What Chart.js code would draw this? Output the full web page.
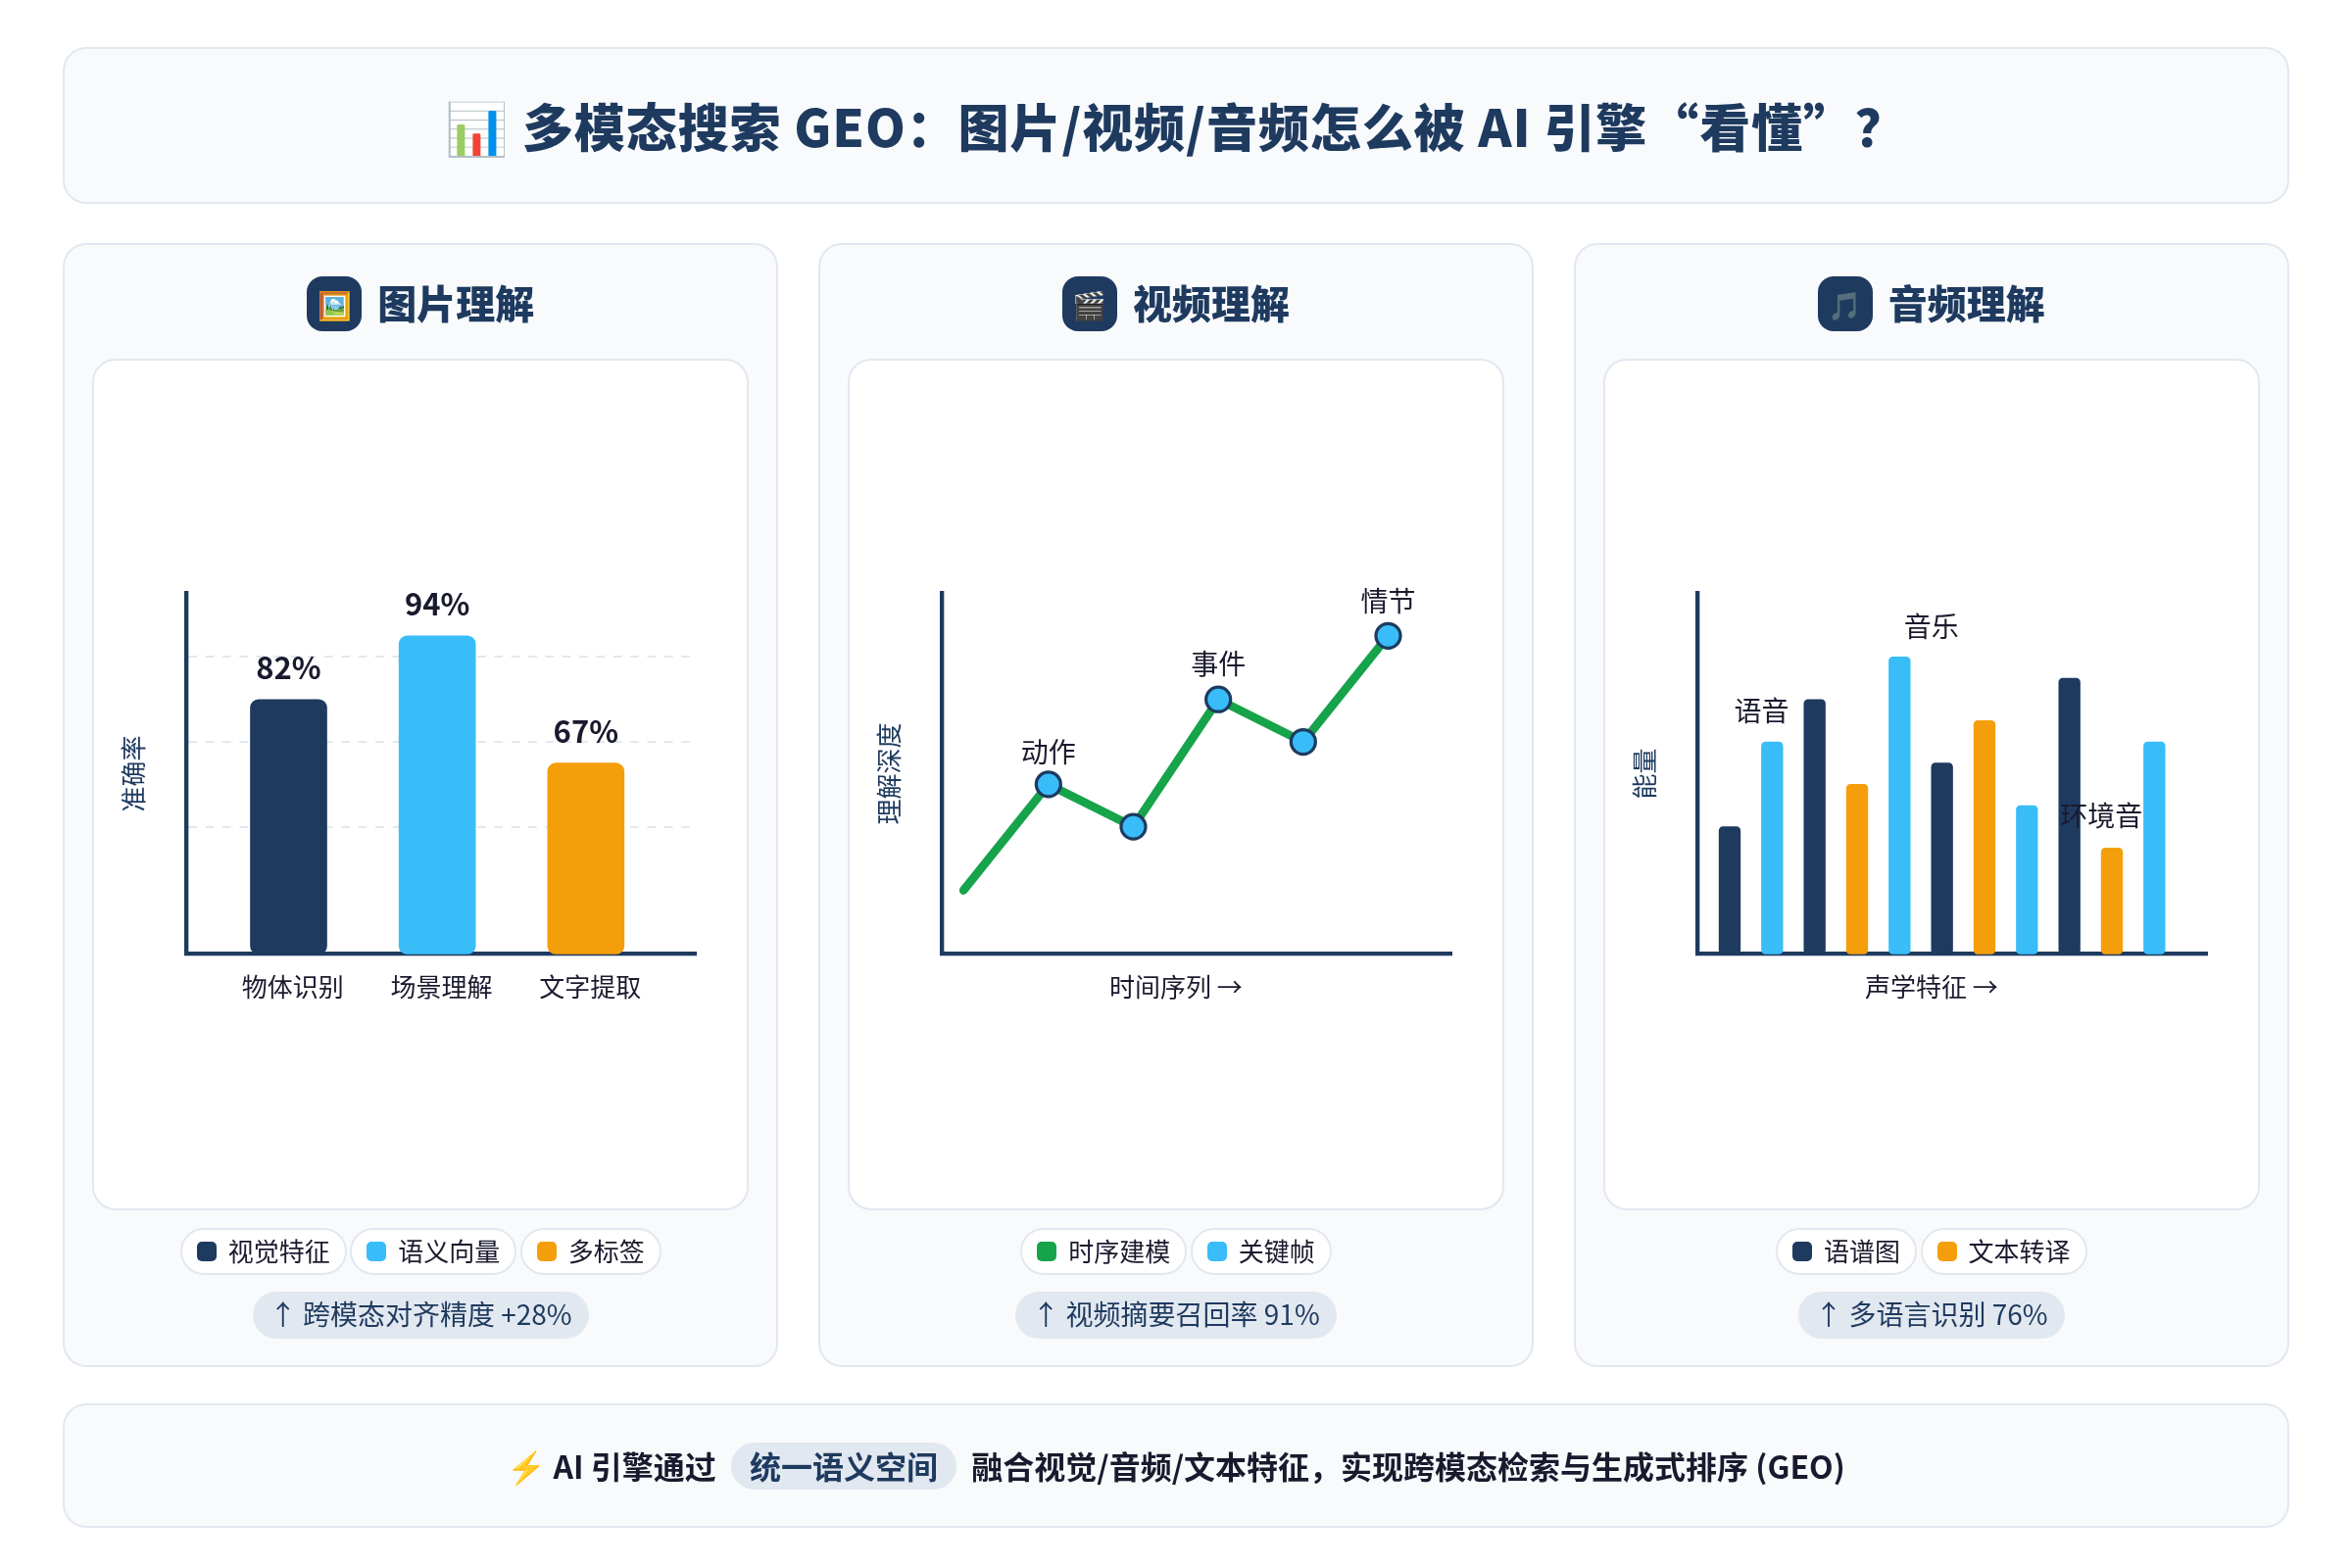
<!DOCTYPE html>
<html lang="zh-CN">
<head>
<meta charset="utf-8">
<title>多模态搜索 GEO</title>
<script src="https://cdn.jsdelivr.net/npm/chart.js@4"></script>
<style>
    * { box-sizing: border-box; }
    html, body { margin: 0; background: #ffffff; }
    body {
        width: 2400px;
        height: 1600px;
        padding: 48px 64px 0;
        font-family: "Noto Sans CJK SC", "Noto Sans", sans-serif;
        color: #1a1a2e;
    }
    .panel {
        background: #f8fafc;
        border: 2px solid #e2e8f0;
        border-radius: 24px;
    }
    .header {
        height: 160px;
        padding-bottom: 2px;
        display: flex;
        align-items: center;
        justify-content: center;
        font-size: 52px;
        font-weight: 800;
        letter-spacing: 0.9px;
        color: #1e3a5f;
    }
    .cards {
        display: flex;
        gap: 40.5px;
        margin-top: 40px;
        height: 1147px;
    }
    .card {
        flex: 1;
        min-width: 0;
        padding: 32px 28px 0;
        display: flex;
        flex-direction: column;
        align-items: center;
    }
    .card-title {
        display: flex;
        align-items: center;
        gap: 16px;
        height: 56px;
        font-size: 40px;
        font-weight: 800;
        color: #1e3a5f;
    }
    .card-title .text {
        position: relative;
        top: -2px;
    }
    .card-icon {
        width: 56px;
        height: 56px;
        border-radius: 16px;
        background: #1e3a5f;
        display: flex;
        align-items: center;
        justify-content: center;
        font-size: 28px;
    }
    .chart-box {
        width: 100%;
        height: 869px;
        margin-top: 28px;
        background: #ffffff;
        border: 2px solid #e2e8f0;
        border-radius: 24px;
        overflow: hidden;
    }
    canvas { display: block; }
    .legend {
        display: flex;
        justify-content: center;
        gap: 3.5px;
        margin-top: 18px;
    }
    .chip {
        height: 48px;
        padding: 0 15px;
        display: flex;
        align-items: center;
        gap: 12px;
        background: #ffffff;
        border: 2px solid #e2e8f0;
        border-radius: 24px;
        font-size: 26px;
    }
    .chip .text {
        position: relative;
        top: -2px;
    }
    .swatch {
        width: 20px;
        height: 20px;
        border-radius: 5px;
    }
    .metric {
        height: 48px;
        margin-top: 17px;
        padding: 0 17px 4px;
        display: flex;
        align-items: center;
        background: #e2e8f0;
        border-radius: 24px;
        font-size: 28px;
        color: #1e3a5f;
    }
    .footer {
        height: 127px;
        margin-top: 37px;
        padding-bottom: 2px;
        display: flex;
        align-items: center;
        justify-content: center;
        white-space: pre;
        font-size: 32px;
        font-weight: 700;
    }
    .footer .key {
        position: relative;
        top: 1px;
        height: 48px;
        margin: 0 8px;
        padding: 0 19px 2px;
        display: flex;
        align-items: center;
        background: #e2e8f0;
        border-radius: 24px;
        color: #1e3a5f;
    }
</style>
</head>
<body>
    <div class="panel header">📊 多模态搜索 GEO：图片/视频/音频怎么被 AI 引擎“看懂”？</div>

    <div class="cards">
        <div class="panel card">
            <div class="card-title"><span class="card-icon">🖼️</span><span class="text">图片理解</span></div>
            <div class="chart-box"><canvas id="imageChart" width="664" height="864"></canvas></div>
            <div class="legend" id="imageLegend"></div>
            <div class="metric">↑ 跨模态对齐精度 +28%</div>
        </div>
        <div class="panel card">
            <div class="card-title"><span class="card-icon">🎬</span><span class="text">视频理解</span></div>
            <div class="chart-box"><canvas id="videoChart" width="664" height="864"></canvas></div>
            <div class="legend" id="videoLegend"></div>
            <div class="metric">↑ 视频摘要召回率 91%</div>
        </div>
        <div class="panel card">
            <div class="card-title"><span class="card-icon">🎵</span><span class="text">音频理解</span></div>
            <div class="chart-box"><canvas id="audioChart" width="664" height="864"></canvas></div>
            <div class="legend" id="audioLegend"></div>
            <div class="metric">↑ 多语言识别 76%</div>
        </div>
    </div>

    <div class="panel footer">⚡ AI 引擎通过 <span class="key">统一语义空间</span> 融合视觉/音频/文本特征，实现跨模态检索与生成式排序 (GEO)</div>

<script>
// COLOURS

const NAVY = "#1e3a5f";
const SKY = "#38bdf8";
const AMBER = "#f59e0b";
const GREEN = "#16a34a";
const INK = "#1a1a2e";
const GRID = "#e2e8f0";
const FONT = '"Noto Sans CJK SC", "Noto Sans", sans-serif';

// DATA (axes run 0-240 across and 0-170 up)

const imageBarX = [48, 118, 188];
const imageBarHeights = [120, 150, 90];
const imageValueLabels = ["82%", "94%", "67%"];
const imageLabelY = [135, 165, 105];
const imageTickX = [50, 120, 190];
const imageTickLabels = ["物体识别", "场景理解", "文字提取"];
const imageGridY = [60, 100, 140];
const imageBarColors = [NAVY, SKY, AMBER];

const videoX = [10, 50, 90, 130, 170, 210];
const videoDepth = [30, 80, 60, 120, 100, 150];
const videoLabelX = [50, 130, 210];
const videoLabelY = [95, 137, 166.5];
const videoLabels = ["动作", "事件", "情节"];

const audioX = [15, 35, 55, 75, 95, 115, 135, 155, 175, 195, 215];
const audioEnergy = [60, 100, 120, 80, 140, 90, 110, 70, 130, 50, 100];
const audioBarColors = [NAVY, SKY, NAVY, AMBER, SKY, NAVY, AMBER, SKY, NAVY, AMBER, SKY];
const audioLabelX = [30, 110, 190];
const audioLabelY = [114.5, 154.5, 65];
const audioLabels = ["语音", "音乐", "环境音"];

const axisTickX = [110];

const imageLegendNames = ["视觉特征", "语义向量", "多标签"];
const imageLegendColors = [NAVY, SKY, AMBER];
const videoLegendNames = ["时序建模", "关键帧"];
const videoLegendColors = [GREEN, SKY];
const audioLegendNames = ["语谱图", "文本转译"];
const audioLegendColors = [NAVY, AMBER];


// FUNCTIONS

// text placed on the chart through its own scales
const textMarksPlugin = {
    id: "textMarks",
    afterDatasetsDraw(chart, args, opts) {
        const ctx = chart.ctx;
        ctx.save();
        ctx.font = opts.font;
        ctx.fillStyle = INK;
        ctx.textAlign = "center";
        ctx.textBaseline = "middle";
        opts.texts.forEach((text, i) => {
            ctx.fillText(text, chart.scales.x.getPixelForValue(opts.x[i]), chart.scales.y.getPixelForValue(opts.y[i]));
        });
        ctx.restore();
    }
};

function buildOptions(settings) {
    return {
        responsive: false,
        animation: false,
        events: [],
        clip: false,
        layout: {
            padding: { top: 237.5, right: 49.5, bottom: 158.5, left: 0 }
        },
        scales: {
            x: {
                type: "linear",
                min: 0,
                max: 240,
                offset: false,
                afterFit: scale => { scale.height = 100; },
                afterBuildTicks: scale => { scale.ticks = settings.tickX.map(value => ({ value })); },
                grid: { display: false, offset: false },
                border: { color: NAVY, width: 4.33 },
                ticks: {
                    autoSkip: false,
                    maxRotation: 0,
                    padding: 10.5,
                    color: INK,
                    font: { family: FONT, size: 26 },
                    callback: (value, index) => settings.tickLabels[index]
                }
            },
            y: {
                type: "linear",
                min: 0,
                max: 170,
                afterFit: scale => { scale.width = 94.5; },
                afterBuildTicks: scale => { scale.ticks = settings.gridY.map(value => ({ value })); },
                grid: {
                    display: settings.gridY.length > 0,
                    color: GRID,
                    lineWidth: 2,
                    drawTicks: false
                },
                // v4 takes the grid dash from border.dash
                border: { color: NAVY, width: 4.33, dash: [8.67, 8.67] },
                ticks: { display: false },
                title: {
                    display: true,
                    text: settings.yTitle,
                    color: NAVY,
                    font: { family: FONT, size: 26 },
                    padding: { top: 25, bottom: 0 }
                }
            }
        },
        plugins: {
            legend: { display: false },
            tooltip: { enabled: false },
            textMarks: settings.marks
        }
    };
}

function fillLegend(id, names, colors) {
    const legend = document.getElementById(id);
    names.forEach((name, i) => {
        const chip = document.createElement("div");
        chip.className = "chip";
        const swatch = document.createElement("span");
        swatch.className = "swatch";
        swatch.style.background = colors[i];
        const text = document.createElement("span");
        text.className = "text";
        text.textContent = name;
        chip.append(swatch, text);
        legend.append(chip);
    });
}

function toPoints(xs, ys) {
    return xs.map((x, i) => ({ x, y: ys[i] }));
}

function drawImageChart() {
    new Chart(document.getElementById("imageChart"), {
        type: "bar",
        plugins: [textMarksPlugin],
        data: {
            datasets: [{
                data: toPoints(imageBarX, imageBarHeights),
                backgroundColor: imageBarColors,
                barThickness: 78,
                borderRadius: 8.67,
                borderSkipped: false
            }]
        },
        options: buildOptions({
            tickX: imageTickX,
            tickLabels: imageTickLabels,
            gridY: imageGridY,
            yTitle: "准确率",
            marks: {
                texts: imageValueLabels,
                x: imageBarX,
                y: imageLabelY,
                font: `700 31px ${FONT}`
            }
        })
    });
}

function drawVideoChart() {
    new Chart(document.getElementById("videoChart"), {
        type: "line",
        plugins: [textMarksPlugin],
        data: {
            datasets: [{
                data: toPoints(videoX, videoDepth),
                borderColor: GREEN,
                borderWidth: 8.67,
                borderCapStyle: "round",
                tension: 0,
                clip: false,
                // the first point has no dot
                pointRadius: videoX.map((x, i) => i === 0 ? 0 : 12.5),
                pointBackgroundColor: SKY,
                pointBorderColor: NAVY,
                pointBorderWidth: 3.25
            }]
        },
        options: buildOptions({
            tickX: axisTickX,
            tickLabels: ["时间序列 →"],
            gridY: [],
            yTitle: "理解深度",
            marks: {
                texts: videoLabels,
                x: videoLabelX,
                y: videoLabelY,
                font: `400 28px ${FONT}`
            }
        })
    });
}

function drawAudioChart() {
    new Chart(document.getElementById("audioChart"), {
        type: "bar",
        plugins: [textMarksPlugin],
        data: {
            datasets: [{
                data: toPoints(audioX, audioEnergy),
                backgroundColor: audioBarColors,
                barThickness: 21.7,
                borderRadius: 4.3,
                borderSkipped: false
            }]
        },
        options: buildOptions({
            tickX: axisTickX,
            tickLabels: ["声学特征 →"],
            gridY: [],
            yTitle: "能量",
            marks: {
                texts: audioLabels,
                x: audioLabelX,
                y: audioLabelY,
                font: `400 28px ${FONT}`
            }
        })
    });
}

fillLegend("imageLegend", imageLegendNames, imageLegendColors);
fillLegend("videoLegend", videoLegendNames, videoLegendColors);
fillLegend("audioLegend", audioLegendNames, audioLegendColors);

drawImageChart();
drawVideoChart();
drawAudioChart();
</script>
</body>
</html>
